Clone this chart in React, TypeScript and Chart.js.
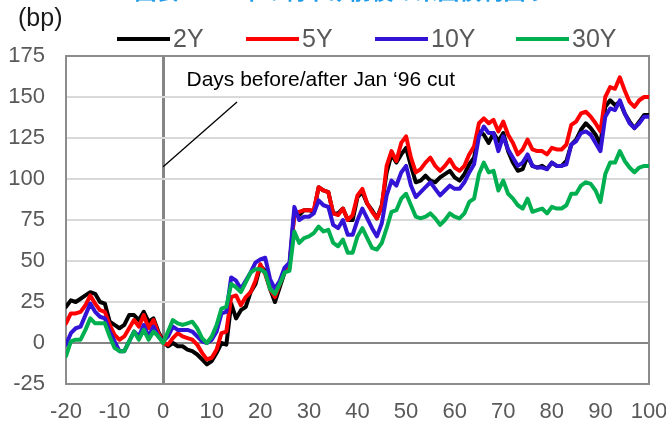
import React, { useEffect, useRef } from 'react';
import { Chart, registerables } from 'chart.js';

Chart.register(...registerables);

const FONT = '"Liberation Sans", Arial, sans-serif';

const days = [
  -20, -19, -18, -17, -16, -15, -14, -13, -12, -11, -10, -9, -8, -7, -6, -5, -4, -3, -2, -1,
  0, 1, 2, 3, 4, 5, 6, 7, 8, 9, 10, 11, 12, 13, 14, 15, 16, 17, 18, 19,
  20, 21, 22, 23, 24, 25, 26, 27, 28, 29, 30, 31, 32, 33, 34, 35, 36, 37, 38, 39,
  40, 41, 42, 43, 44, 45, 46, 47, 48, 49, 50, 51, 52, 53, 54, 55, 56, 57, 58, 59,
  60, 61, 62, 63, 64, 65, 66, 67, 68, 69, 70, 71, 72, 73, 74, 75, 76, 77, 78, 79,
  80, 81, 82, 83, 84, 85, 86, 87, 88, 89, 90, 91, 92, 93, 94, 95, 96, 97, 98, 99, 100,
];

const y2 = [
  22, 26, 25, 27, 29, 31, 30, 25, 24, 13, 11, 9, 11, 17, 17, 14, 19, 13, 15, 7,
  1, -2, 0, -2, -2, -4, -5, -7, -10, -13, -11, -6, 0, -1, 24, 15, 20, 22, 31, 36,
  47, 44, 33, 25, 34, 43, 46, 80, 78, 81, 81, 80, 95, 93, 92, 79, 79, 82, 75, 75,
  89, 92, 85, 81, 76, 84, 104, 115, 110, 115, 119, 108, 98, 99, 102, 99, 98, 101, 103, 105,
  101, 99, 103, 109, 113, 129, 127, 122, 128, 123, 128, 117, 110, 105, 106, 114, 108, 107, 108, 106,
  110, 108, 108, 111, 121, 124, 130, 134, 131, 127, 121, 144, 148, 145, 147, 140, 135, 131, 135, 139, 139,
];

const y5 = [
  12, 18, 18, 19, 23, 29, 24, 20, 19, 11, 5, 2, 4, 9, 14, 10, 17, 9, 14, 6,
  0, -1, 3, 6, 4, 3, 2, -1, -6, -10, -9, -4, 6, 7, 28, 29, 23, 28, 31, 38,
  48, 42, 33, 28, 36, 44, 47, 79, 80, 81, 81, 81, 95, 93, 92, 79, 78, 82, 75, 78,
  90, 94, 85, 80, 76, 83, 108, 117, 111, 122, 126, 113, 104, 106, 110, 113, 108, 105, 108, 112,
  107, 105, 108, 115, 120, 134, 137, 134, 136, 129, 135, 127, 122, 115, 118, 124, 118, 117, 117, 115,
  119, 118, 118, 121, 133, 135, 140, 141, 138, 134, 129, 150, 156, 155, 162, 154, 147, 144, 148, 150, 150,
];

const y10 = [
  -1, 6, 9, 10, 17, 24, 19, 16, 15, 7, 1, -5, -5, 1, 7, 4, 11, 4, 10, 4,
  1, 4, 10, 8, 8, 8, 7, 4, 1, 0, 2, 7, 18, 19, 40, 38, 33, 38, 43, 49,
  51, 52, 39, 33, 38, 46, 49, 83, 75, 77, 77, 79, 87, 84, 83, 72, 70, 75, 66, 66,
  75, 82, 76, 70, 65, 73, 90, 99, 96, 104, 108, 96, 89, 92, 95, 98, 94, 90, 93, 96,
  94, 94, 98, 104, 109, 126, 132, 128, 128, 117, 126, 118, 113, 108, 110, 115, 108, 107, 107, 106,
  110, 108, 108, 109, 121, 123, 128, 129, 127, 122, 117, 138, 143, 142, 148, 140, 134, 131, 134, 138, 138,
];

const y30 = [
  -8, 1, 2, 2, 8, 15, 12, 12, 12, 4, -3, -5, -5, 1, 7, 2, 8, 2, 7, 4,
  0, 7, 14, 12, 11, 12, 13, 9, 3, 0, 4, 11, 21, 22, 36, 34, 31, 37, 43, 45,
  45, 43, 33, 30, 36, 43, 44, 68, 61, 64, 65, 67, 71, 68, 69, 61, 59, 63, 55, 55,
  65, 70, 64, 58, 57, 61, 70, 80, 81, 88, 91, 84, 77, 76, 77, 79, 76, 72, 75, 79,
  77, 76, 79, 86, 88, 103, 110, 104, 105, 93, 99, 91, 88, 84, 82, 88, 80, 81, 82, 79,
  83, 82, 82, 84, 91, 91, 96, 98, 97, 93, 86, 103, 110, 110, 117, 111, 107, 104, 107, 108, 108,
];

const seriesNames = ['2Y', '5Y', '10Y', '30Y'];
const seriesColors = ['#000000', '#FF0000', '#3314D6', '#00B050'];
const seriesValues = [y2, y5, y10, y30];

const xTicksMin = -20;
const xTicksMax = 100;
const xStep = 10;
const yTicksMin = -25;
const yTicksMax = 175;
const yStep = 25;

const titleText = '図表5：96年の利下げ前後の米国債利回り';
const unitText = '(bp)';
const annotationText = 'Days before/after Jan \u201896 cut';
const annotationAnchor = [4.8, 160];
const pointerFrom = [0, 107.5];
const pointerTo = [15.2, 147];

const overlayPlugin = {
  id: 'overlay',
  beforeDatasetsDraw(chart: any) {
    const { ctx, chartArea: a } = chart;
    ctx.save();
    ctx.strokeStyle = '#8c8c8c';
    ctx.lineWidth = 2;
    ctx.strokeRect(a.left, a.top, a.right - a.left, a.bottom - a.top);
    ctx.restore();
  },
  afterDraw(chart: any) {
    const { ctx } = chart;
    const x = chart.scales.x;
    const y = chart.scales.y;
    ctx.save();
    // pointer line
    ctx.strokeStyle = '#000';
    ctx.lineWidth = 1.3;
    ctx.beginPath();
    ctx.moveTo(x.getPixelForValue(pointerFrom[0]), y.getPixelForValue(pointerFrom[1]));
    ctx.lineTo(x.getPixelForValue(pointerTo[0]), y.getPixelForValue(pointerTo[1]));
    ctx.stroke();
    // annotation text
    ctx.fillStyle = '#000';
    ctx.font = `21px ${FONT}`;
    ctx.textBaseline = 'middle';
    ctx.textAlign = 'left';
    ctx.fillText(annotationText, x.getPixelForValue(annotationAnchor[0]), y.getPixelForValue(annotationAnchor[1]));
    // legend
    const legendX = [117, 246, 375, 516];
    chart.data.datasets.forEach((ds: any, i: number) => {
      ctx.fillStyle = ds.borderColor;
      ctx.fillRect(legendX[i], 37, 53, 4);
      ctx.fillStyle = '#595959';
      ctx.font = `25px ${FONT}`;
      ctx.textBaseline = 'middle';
      ctx.fillText(ds.label, legendX[i] + 56, 40);
    });
    // unit label
    ctx.fillStyle = '#1a1a1a';
    ctx.font = `25px ${FONT}`;
    ctx.textBaseline = 'middle';
    ctx.fillText(unitText, 18, 19);
    // title (cut off at top)
    ctx.fillStyle = '#1E9BE8';
    ctx.font = `bold 22px "Noto Sans CJK JP", sans-serif`;
    ctx.textAlign = 'center';
    ctx.textBaseline = 'alphabetic';
    ctx.fillText(titleText, 341, -1);
    ctx.restore();
  },
};

export default function App() {
  const ref = useRef<HTMLCanvasElement>(null);
  useEffect(() => {
    if (!ref.current) return;
    const datasets = seriesNames.map((name, i) => ({
      label: name,
      data: days.map((d, j) => ({ x: d, y: seriesValues[i][j] })),
      borderColor: seriesColors[i],
      backgroundColor: seriesColors[i],
      borderWidth: 4,
      pointRadius: 0,
      tension: 0,
      fill: false,
      borderJoinStyle: 'round' as const,
      borderCapStyle: 'round' as const,
      order: seriesNames.length - i,
    }));
    const chart = new Chart(ref.current, {
      type: 'line',
      data: { datasets },
      options: {
        responsive: false,
        animation: false,
        layout: { padding: { top: 56, left: 0, right: 0, bottom: 0 } },
        plugins: { legend: { display: false }, tooltip: { enabled: false }, title: { display: false } },
        scales: {
          x: {
            type: 'linear',
            min: xTicksMin,
            max: xTicksMax,
            afterFit: (s: any) => {
              s.height = 42;
              s.paddingRight = 17;
            },
            ticks: { stepSize: xStep, color: '#595959', font: { size: 22, family: FONT }, padding: 15, maxRotation: 0 },
            grid: {
              drawTicks: false,
              color: (c: any) => (c.tick && c.tick.value === 0 ? '#858585' : 'rgba(0,0,0,0)'),
              lineWidth: 3,
            },
            border: { display: false },
          },
          y: {
            min: yTicksMin,
            max: yTicksMax,
            afterFit: (s: any) => {
              s.width = 66;
            },
            ticks: { stepSize: yStep, color: '#595959', font: { size: 22, family: FONT }, padding: 21 },
            grid: {
              drawTicks: false,
              color: (c: any) => (c.tick && c.tick.value === 0 ? '#858585' : '#d9d9d9'),
              lineWidth: 2,
            },
            border: { display: false },
          },
        },
      },
      plugins: [overlayPlugin],
    });
    return () => chart.destroy();
  }, []);
  return (
    <div style={{ position: 'absolute', left: 0, top: 0, width: 666, height: 426, background: '#fff' }}>
      <canvas ref={ref} width={666} height={426} style={{ display: 'block', width: 666, height: 426 }} />
    </div>
  );
}
